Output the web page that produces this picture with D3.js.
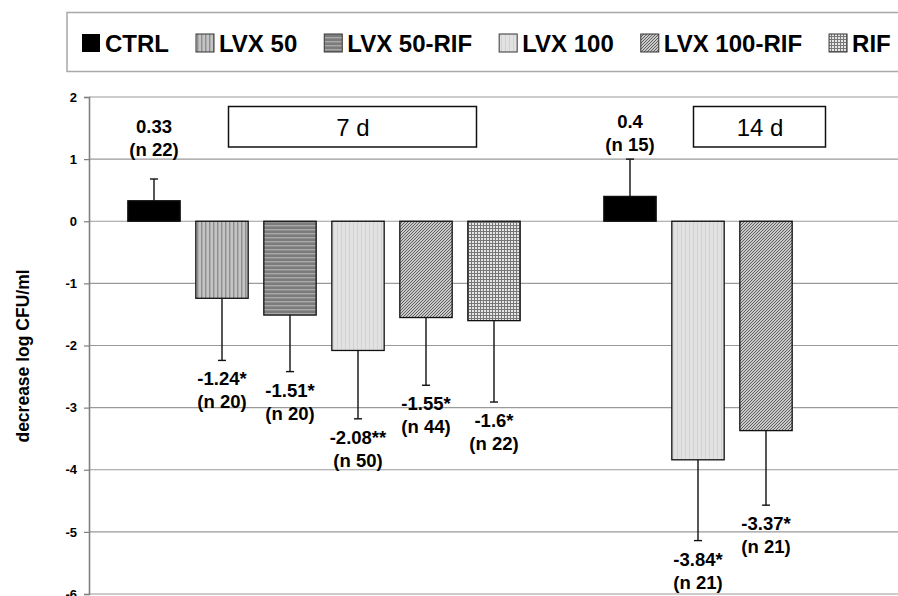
<!DOCTYPE html>
<html>
<head>
<meta charset="utf-8">
<script src="https://cdn.jsdelivr.net/npm/d3@7/dist/d3.min.js"></script>
<style>
  html, body { margin: 0; padding: 0; background: #fff; }
  svg { display: block; font-family: "Liberation Sans", Arial, Helvetica, sans-serif; }
</style>
</head>
<body>
<svg id="chart" width="898" height="596"></svg>
<script>
// ---------- data ----------
const categories = ["CTRL", "LVX 50", "LVX 50-RIF", "LVX 100", "LVX 100-RIF", "RIF"];
const days = ["7 d", "14 d"];

const cats7   = ["CTRL", "LVX 50", "LVX 50-RIF", "LVX 100", "LVX 100-RIF", "RIF"];
const values7 = [0.33, -1.24, -1.51, -2.08, -1.55, -1.6];
const errors7 = [0.35, 1.0, 0.91, 1.1, 1.09, 1.31];
const counts7 = [22, 20, 20, 50, 44, 22];
const signif7 = ["", "*", "*", "**", "*", "*"];

const cats14   = ["CTRL", "LVX 100", "LVX 100-RIF"];
const values14 = [0.4, -3.84, -3.37];
const errors14 = [0.6, 1.3, 1.2];
const counts14 = [15, 21, 21];
const signif14 = ["", "*", "*"];

const yTicks = [2, 1, 0, -1, -2, -3, -4, -5, -6];
const yTitle = "decrease log CFU/ml";

// ---------- build rows ----------
const rows = [];
cats7.forEach((c, i) => rows.push({slot: "7|" + c, cat: c, v: values7[i], e: errors7[i], n: counts7[i], s: signif7[i]}));
const slots = rows.map(r => r.slot).concat(["gap"]);
cats14.forEach((c, i) => rows.push({slot: "14|" + c, cat: c, v: values14[i], e: errors14[i], n: counts14[i], s: signif14[i]}));
cats14.forEach(c => slots.push("14|" + c));

// ---------- layout ----------
const svg = d3.select("#chart");
const W = 898, H = 596;
const plotLeft = 89, plotRight = 898, plotTop = 97, plotBottom = 594;

const y = d3.scaleLinear().domain([-6, 2]).range([plotBottom, plotTop]);
const x = d3.scaleBand().domain(slots).range([120, 800]).paddingInner(0.23).paddingOuter(0.115);

// ---------- patterns ----------
const defs = svg.append("defs");
function pat(id, w, h, draw) {
  const p = defs.append("pattern").attr("id", id).attr("patternUnits", "userSpaceOnUse")
    .attr("width", w).attr("height", h);
  draw(p);
}
pat("p-lvx50", 4, 4, p => {
  p.append("rect").attr("width", 4).attr("height", 4).attr("fill", "#c4c4c4");
  p.append("rect").attr("x", 1).attr("width", 1.4).attr("height", 4).attr("fill", "#8e8e8e");
});
pat("p-lvx50rif", 4, 4, p => {
  p.append("rect").attr("width", 4).attr("height", 4).attr("fill", "#7c7c7c");
  p.append("rect").attr("y", 1).attr("width", 4).attr("height", 1.4).attr("fill", "#a9a9a9");
});
pat("p-lvx100", 4, 4, p => {
  p.append("rect").attr("width", 4).attr("height", 4).attr("fill", "#e2e2e2");
  p.append("rect").attr("x", 1).attr("width", 1).attr("height", 4).attr("fill", "#d2d2d2");
});
pat("p-lvx100rif", 3, 3, p => {
  p.append("rect").attr("width", 3).attr("height", 3).attr("fill", "#c9c9c9");
  p.append("path").attr("d", "M-1,1 L1,-1 M0,3 L3,0 M2,4 L4,2").attr("stroke", "#555").attr("stroke-width", 0.9);
});
pat("p-rif", 3, 3, p => {
  p.append("rect").attr("width", 3).attr("height", 3).attr("fill", "#e6e6e6");
  p.append("rect").attr("width", 1).attr("height", 3).attr("fill", "#777");
  p.append("rect").attr("width", 3).attr("height", 1).attr("fill", "#777");
});
const fills = {
  "CTRL": "#000",
  "LVX 50": "url(#p-lvx50)",
  "LVX 50-RIF": "url(#p-lvx50rif)",
  "LVX 100": "url(#p-lvx100)",
  "LVX 100-RIF": "url(#p-lvx100rif)",
  "RIF": "url(#p-rif)"
};

// ---------- legend ----------
svg.append("rect").attr("x", 67).attr("y", 12.5).attr("width", 900).attr("height", 59)
  .attr("fill", "#fff").attr("stroke", "#a8a8a8").attr("stroke-width", 1.5);
let lx = 82;
categories.forEach(c => {
  const g = svg.append("g");
  g.append("rect").attr("x", lx).attr("y", 34).attr("width", 18).attr("height", 18)
    .attr("fill", fills[c]).attr("stroke", c === "CTRL" ? "none" : "#333").attr("stroke-width", 1);
  const t = g.append("text").attr("x", lx + 23).attr("y", 52).attr("font-size", 24)
    .attr("font-weight", "bold").attr("fill", "#000").text(c);
  lx = lx + 23 + t.node().getComputedTextLength() + 27;
});

// ---------- grid ----------
svg.append("g").selectAll("line").data(yTicks).join("line")
  .attr("x1", plotLeft).attr("x2", plotRight)
  .attr("y1", d => y(d)).attr("y2", d => y(d))
  .attr("stroke", "#9a9a9a").attr("stroke-width", 1.2);

// ---------- y axis ----------
const yAxis = d3.axisLeft(y).tickValues(yTicks).tickFormat(d => String(d)).tickSize(5).tickPadding(7);
const ya = svg.append("g").attr("transform", `translate(${plotLeft},0)`).call(yAxis);
ya.select(".domain").attr("stroke", "#808080").attr("stroke-width", 1.6);
ya.selectAll(".tick line").attr("stroke", "#808080").attr("stroke-width", 1.2);
ya.selectAll(".tick text").attr("font-size", 13).attr("font-weight", "bold").attr("fill", "#000")
  .attr("font-family", '"Liberation Sans", Arial, sans-serif');

svg.append("text").attr("transform", `translate(29,356) rotate(-90)`)
  .attr("text-anchor", "middle").attr("font-size", 17.5).attr("font-weight", "bold").text(yTitle);

// ---------- day boxes ----------
const dayBoxes = [
  {label: days[0], from: "7|LVX 50", to: "7|LVX 100-RIF"},
  {label: days[1], from: "14|LVX 100", to: "14|LVX 100-RIF"}
];
// 7 d box spans roughly over bars 2..5; 14 d box over bars 2..3 of second group
const boxG = svg.append("g");
[[228.5, 476.5], [693.5, 825.5]].forEach((ext, i) => {
  boxG.append("rect").attr("x", ext[0]).attr("y", 106.5).attr("width", ext[1] - ext[0]).attr("height", 40.5)
    .attr("fill", "#fff").attr("stroke", "#111").attr("stroke-width", 1.5);
  boxG.append("text").attr("x", (ext[0] + ext[1]) / 2 + 0.5).attr("y", 136).attr("text-anchor", "middle")
    .attr("font-size", 24).text(dayBoxes[i].label);
});

// ---------- bars ----------
svg.append("g").selectAll("rect").data(rows).join("rect")
  .attr("x", d => x(d.slot)).attr("width", x.bandwidth())
  .attr("y", d => y(Math.max(0, d.v)))
  .attr("height", d => Math.abs(y(d.v) - y(0)))
  .attr("fill", d => fills[d.cat]).attr("stroke", "#111").attr("stroke-width", 1.3);

// ---------- error bars ----------
const eg = svg.append("g").attr("stroke", "#111").attr("stroke-width", 1.4);
rows.forEach(d => {
  const cx = x(d.slot) + x.bandwidth() / 2;
  const end = d.v >= 0 ? d.v + d.e : d.v - d.e;
  eg.append("line").attr("x1", cx).attr("x2", cx).attr("y1", y(d.v)).attr("y2", y(end));
  eg.append("line").attr("x1", cx - 4).attr("x2", cx + 4).attr("y1", y(end)).attr("y2", y(end));
});

// ---------- value labels ----------
const lg = svg.append("g").attr("font-size", 18.5).attr("font-weight", "bold").attr("text-anchor", "middle");
rows.forEach(d => {
  const cx = x(d.slot) + x.bandwidth() / 2;
  let b1;
  if (d.v >= 0) {
    b1 = y(d.v) - 45 - 23;
  } else {
    b1 = y(d.v - d.e) + 25;
  }
  lg.append("text").attr("x", cx).attr("y", b1).text(String(d.v) + d.s);
  lg.append("text").attr("x", cx).attr("y", b1 + 23).text("(n " + d.n + ")");
});
</script>
</body>
</html>
